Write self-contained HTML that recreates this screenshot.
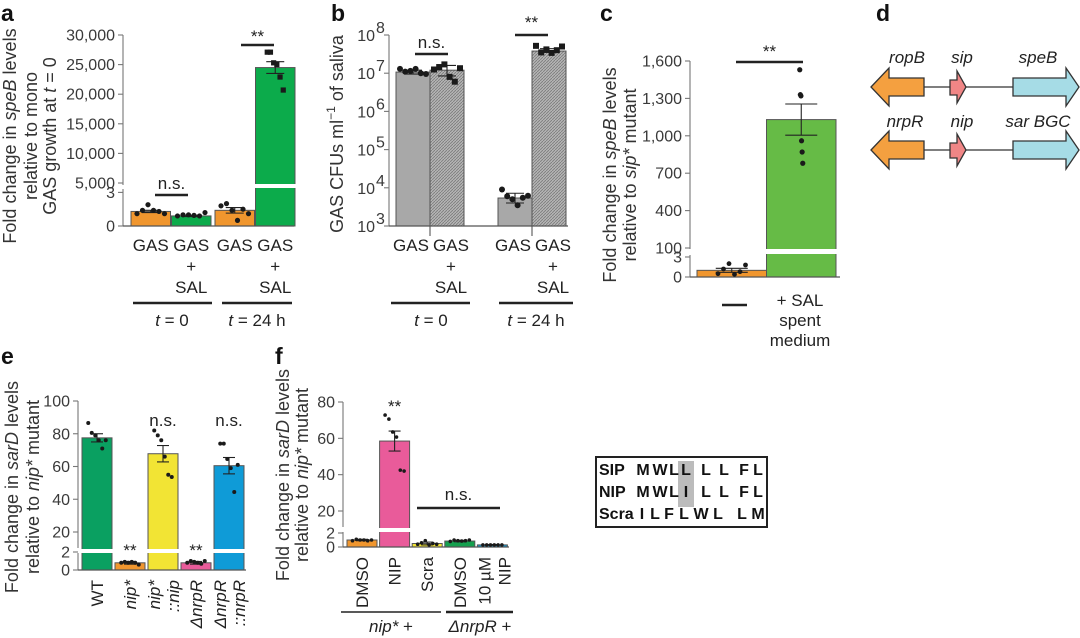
<!DOCTYPE html>
<html><head><meta charset="utf-8"><style>
html,body{margin:0;padding:0;background:#fff;}
svg{display:block;font-family:"Liberation Sans",sans-serif;}
.tk{font-size:16px;fill:#3a3a3a;}
.lb{font-size:17px;fill:#222;}
.pl{font-size:23px;font-weight:bold;fill:#111;}
.yt{font-size:18px;fill:#333;}
</style></head><body>
<svg id="fig" width="1080" height="638" viewBox="0 0 1080 638">
<defs>
<pattern id="hatch" width="3" height="3" patternUnits="userSpaceOnUse">
<rect width="3" height="3" fill="#b5b5b5"/><path d="M0,3 L3,0" stroke="#7d7d7d" stroke-width="0.9"/>
</pattern>
</defs>
<text class="pl" x="1" y="21">a</text>
<text class="pl" x="331" y="21">b</text>
<text class="pl" x="600" y="21">c</text>
<text class="pl" x="876" y="21">d</text>
<text class="pl" x="1" y="364">e</text>
<text class="pl" x="275" y="364">f</text>

<g class="yt" text-anchor="middle">
<text transform="translate(10,136) rotate(-90)" dominant-baseline="central">Fold change in <tspan font-style="italic">speB</tspan> levels</text>
<text transform="translate(31,136) rotate(-90)" dominant-baseline="central">relative to mono</text>
<text transform="translate(50,136) rotate(-90)" dominant-baseline="central">GAS growth at <tspan font-style="italic">t</tspan> = 0</text>
<text transform="translate(337,134) rotate(-90)" dominant-baseline="central">GAS CFUs ml<tspan dy="-6" font-size="12">−1</tspan><tspan dy="6"> of saliva</tspan></text>
<text transform="translate(610,175) rotate(-90)" dominant-baseline="central">Fold change in <tspan font-style="italic">speB</tspan> levels</text>
<text transform="translate(630,175) rotate(-90)" dominant-baseline="central">relative to <tspan font-style="italic">sip*</tspan> mutant</text>
<text transform="translate(12,487) rotate(-90)" dominant-baseline="central">Fold change in <tspan font-style="italic">sarD</tspan> levels</text>
<text transform="translate(33,487) rotate(-90)" dominant-baseline="central">relative to <tspan font-style="italic">nip*</tspan> mutant</text>
<text transform="translate(283,475) rotate(-90)" dominant-baseline="central">Fold change in <tspan font-style="italic">sarD</tspan> levels</text>
<text transform="translate(302,475) rotate(-90)" dominant-baseline="central">relative to <tspan font-style="italic">nip*</tspan> mutant</text>
</g>

<g stroke="#333" stroke-width="1.3">
<line x1="924" y1="87" x2="1013" y2="87"/>
<polygon points="871,87 889,68 889,78 924,78 924,96 889,96 889,106" fill="#f4a040"/>
<polygon points="950,80 957,80 957,71 966,87 957,103 957,95 950,95" fill="#f08686"/>
<polygon points="1013,78 1066,78 1066,68 1079,87 1066,106 1066,96 1013,96" fill="#a6dce6"/>
<line x1="924" y1="150" x2="1013" y2="150"/>
<polygon points="871,150 889,131 889,141 924,141 924,159 889,159 889,169" fill="#f4a040"/>
<polygon points="950,143 957,143 957,134 966,150 957,166 957,158 950,158" fill="#f08686"/>
<polygon points="1013,141 1066,141 1066,131 1079,150 1066,169 1066,159 1013,159" fill="#a6dce6"/>
</g>
<g class="lb" font-style="italic" text-anchor="middle" font-size="17">
<text x="907" y="63">ropB</text>
<text x="962" y="63">sip</text>
<text x="1038" y="63">speB</text>
<text x="905" y="127">nrpR</text>
<text x="962" y="127">nip</text>
<text x="1038" y="127">sar BGC</text>
</g>

<g>
<rect x="596" y="457" width="171" height="70" fill="none" stroke="#222" stroke-width="2"/>
<rect x="678" y="461" width="16" height="46" fill="#bcbcbc"/>
<g font-weight="bold" font-size="16" fill="#111" text-anchor="middle">
<text x="599" y="475" text-anchor="start">SIP</text>
<text y="475"><tspan x="643">M</tspan><tspan x="660">W</tspan><tspan x="674">L</tspan><tspan x="686">L</tspan><tspan x="706">L</tspan><tspan x="724">L</tspan><tspan x="744">F</tspan><tspan x="758">L</tspan></text>
<text x="599" y="497" text-anchor="start">NIP</text>
<text y="497"><tspan x="643">M</tspan><tspan x="660">W</tspan><tspan x="674">L</tspan><tspan x="686">I</tspan><tspan x="706">L</tspan><tspan x="724">L</tspan><tspan x="744">F</tspan><tspan x="758">L</tspan></text>
<text x="599" y="519" text-anchor="start">Scra</text>
<text y="519"><tspan x="642">I</tspan><tspan x="655">L</tspan><tspan x="669">F</tspan><tspan x="684">L</tspan><tspan x="701">W</tspan><tspan x="718">L</tspan><tspan x="742">L</tspan><tspan x="758">M</tspan></text>
</g>
</g>
<g id="plots"></g>
</svg>
<script>
// ---------- data ----------
const aCats = ["GAS", "GAS + SAL", "GAS", "GAS + SAL"];
const aVals = [1.3, 0.9, 1.4, 24500];
const aErr = [0.1, 0.06, 0.25, 1000];
const aDots = [[1.1, 1.4, 1.9, 1.4, 1.3, 1.1], [0.9, 1.0, 1.0, 0.95, 0.9, 1.2], [1.8, 2.0, 1.4, 0.5, 1.5, 1.1], [27100, 27100, 25300, 25000, 22900, 20700]];
const aTicksUpper = [5000, 10000, 15000, 20000, 25000, 30000];
const aTickLabelsUpper = ["5,000", "10,000", "15,000", "20,000", "25,000", "30,000"];
const aTicksLower = [0, 3];
const bCats = ["GAS", "GAS + SAL", "GAS", "GAS + SAL"];
const bVals = [1.07e7, 1.2e7, 5.4e3, 3.8e7];
const bErrLo = [9.5e6, 8.5e6, 4.0e3, 3.5e7];
const bErrHi = [1.2e7, 1.6e7, 7.2e3, 4.4e7];
const bDots = [[1.3e7, 1.1e7, 1.15e7, 1.3e7, 1.0e7, 0.95e7], [1.25e7, 1.45e7, 1.7e7, 0.8e7, 0.6e7, 1.35e7], [9e3, 6e3, 5e3, 3.5e3, 5.5e3, 6.2e3], [5.2e7, 3.5e7, 4.2e7, 3.4e7, 4.0e7, 5.0e7]];
const bTickExps = [3, 4, 5, 6, 7, 8];
const cVals = [1.0, 1130];
const cErr = [0.3, 125];
const cDots = [[0.5, 1.2, 2.0, 0.4, 0.8, 1.8], [1530, 1330, 1320, 960, 870, 780]];
const cTicksUpper = [100, 400, 700, 1000, 1300, 1600];
const cTickLabelsUpper = ["100", "400", "700", "1,000", "1,300", "1,600"];
const cTicksLower = [0, 3];
const eCats = ["WT", "nip*", "nip* ::nip", "ΔnrpR", "ΔnrpR ::nrpR"];
const eVals = [77.5, 0.8, 67.8, 0.8, 60.5];
const eErr = [2.5, 0.15, 5, 0.15, 5];
const eDots = [[86.6, 80.5, 79, 76, 71, 76], [0.8, 0.9, 0.8, 0.9, 0.8, 0.6], [82, 79, 76, 66, 55, 53.6], [0.8, 1.0, 0.9, 0.8, 0.7, 1.0], [74, 74, 64.6, 59, 44.4, 61]];
const eTicksUpper = [20, 40, 60, 80, 100];
const eTicksLower = [0, 2];
const fCats = ["DMSO", "NIP", "Scra", "DMSO", "10 µM NIP"];
const fVals = [1.0, 58.5, 0.5, 0.85, 0.3];
const fErr = [0.1, 5.5, 0.2, 0.1, 0.05];
const fDots = [[0.9, 1.1, 1.0, 1.0, 0.9, 1.0], [72.8, 70.6, 63.5, 60.7, 42.5, 42], [0.4, 0.6, 0.9, 0.3, 0.5, 0.4], [0.8, 1.0, 0.9, 0.85, 0.9, 1.0], [0.3, 0.3, 0.3, 0.3, 0.3, 0.3]];
const fTicksUpper = [20, 40, 60, 80];
const fTicksLower = [0, 2];

function yA(v) { return v <= 3 ? 226 - v * 11.2 : 183 - (v - 5000) * 148 / 25000; }
function yB(v) { return 226 - (Math.log10(v) - 3) * 38.2; }
function yC(v) { return v <= 3 ? 277 - v * 6.67 : 248 - (v - 100) * 187 / 1500; }
function yE(v) { return v <= 2 ? 570 - v * 9 : 532 - (v - 20) * 1.6375; }
function yF(v) { return v <= 2 ? 547 - v * 7 : 511 - (v - 20) * 1.8167; }
function xA(i) { return 131 + i * 40.5 + (i >= 2 ? 3 : 0); }
function xB(i) { return 396 + i * 34 + (i >= 2 ? 34 : 0); }
function xC(i) { return 697 + i * 69.5; }
function xE(i) { return 82 + i * 33; }
function xF(i) { return 347 + i * 32.6; }

const NS = "http://www.w3.org/2000/svg";
const root = document.getElementById("plots");
function mk(tag, parent) { const e = document.createElementNS(NS, tag); parent.appendChild(e); return e; }
function set(e, k, v) { e.setAttribute(k, v); }
function line(p, x1, y1, x2, y2, w, c) { const l = mk("line", p); set(l, "x1", x1); set(l, "y1", y1); set(l, "x2", x2); set(l, "y2", y2); set(l, "stroke", c || "#333"); set(l, "stroke-width", w || 1); return l; }
function txt(p, x, y, s, cls, anchor) { const t = mk("text", p); set(t, "x", x); set(t, "y", y); set(t, "class", cls); set(t, "text-anchor", anchor || "middle"); t.textContent = s; return t; }

function panel(name) { const g = mk("g", root);   return g; }

function axisY(g, ax, segs, ticks) {
  segs.forEach(s => {
    const l = line(g, ax, s[0], ax, s[1], 1.1, "#777");
    
    
  });
  ticks.forEach(t => {
    const l = line(g, ax - 5, t.y, ax, t.y, 1.1, "#777");
    
    
    const tt = txt(g, ax - 8, t.y + 5.5, t.label, "tk", "end");
    
    
  });
}
function barsDraw(g, n, xf, w, base, yf, vals, colors, fills, gapY) {
  for (let i = 0; i < n; i++) {
    const x = xf(i), top = yf(vals[i]);
    const r = mk("rect", g);
    set(r, "x", x); set(r, "y", top); set(r, "width", w); set(r, "height", base - top);
    set(r, "fill", fills ? fills[i] : colors[i]); set(r, "stroke", "#555"); set(r, "stroke-width", 1);
    
    
    if (gapY && top < gapY[0]) {
      const gp = mk("rect", g);
      set(gp, "x", x - 1); set(gp, "y", gapY[0]); set(gp, "width", w + 2); set(gp, "height", gapY[1] - gapY[0]); set(gp, "fill", "#fff");
      
      
    }
  }
}
function errDraw(g, n, xf, w, yf, lo, hi, cap) {
  for (let i = 0; i < n; i++) {
    const cx = xf(i) + w / 2;
    const l = line(g, cx, yf(hi[i]), cx, yf(lo[i]), 1.1, "#222");
    
    
    [lo[i], hi[i]].forEach(v => {
      const c = line(g, cx - cap, yf(v), cx + cap, yf(v), 1.1, "#222");
      
      
    });
  }
}
function dotsDraw(g, xf, w, yf, dots, square, r, spread) {
  dots.forEach((arr, i) => {
    arr.forEach((v, j) => {
      const cx = xf(i) + w / 2 + (j - (arr.length - 1) / 2) * spread;
      let d;
      if (square) { d = mk("rect", g); set(d, "x", cx - r); set(d, "y", yf(v) - r); set(d, "width", 2 * r); set(d, "height", 2 * r); }
      else { d = mk("circle", g); set(d, "cx", cx); set(d, "cy", yf(v)); set(d, "r", r); }
      set(d, "fill", "#1a1a1a");
      
      
    });
  });
}
function sig(g, x1, x2, y, label, ty) {
  const l = line(g, x1, y, x2, y, 2.5, "#222");
  
  
  const t = txt(g, (x1 + x2) / 2, ty, label, "lb");
  
  
}
function stackLabel(g, cx, lines, y0, dy) {
  lines.forEach((s, k) => {
    const t = txt(g, cx, y0 + k * dy, s, "lb");
    
    
  });
}

(function () {
  const g = panel("panel-a-chart");
  const ax = 123, w = 39.5;
  const ticks = aTicksUpper.map((v, i) => ({ y: yA(v), label: aTickLabelsUpper[i] })).concat(aTicksLower.map(v => ({ y: yA(v), label: String(v) })));
  axisY(g, ax, [[35, 185], [189, 226]], ticks);
  const col = ["#f0962e", "#0cab4b", "#f0962e", "#0cab4b"];
  barsDraw(g, 4, xA, w, 226, yA, aVals, col, null, [184, 188]);
  const xl = line(g, ax, 226, 294, 226, 1.3, "#555");
  
  
  errDraw(g, 4, xA, w, yA, aVals.map((v, i) => v - aErr[i]), aVals.map((v, i) => v + aErr[i]), 9);
  dotsDraw(g, xA, w, yA, aDots.slice(0, 3).concat([[]]), false, 2.6, 5.5);
  dotsDraw(g, xA, w, yA, [[], [], [], aDots[3]], true, 2.6, 3.2);
  aCats.forEach((c, i) => stackLabel(g, xA(i) + w / 2, c.split(" "), 251, 21));
  [[133, 212], [222, 292]].forEach(s => {
    const l = line(g, s[0], 303, s[1], 303, 2.5, "#222");
    
    
  });
  const t1 = txt(g, 172, 326, "", "lb"); t1.innerHTML = '<tspan font-style="italic">t</tspan> = 0';
  
  
  const t2 = txt(g, 257, 326, "", "lb"); t2.innerHTML = '<tspan font-style="italic">t</tspan> = 24 h';
  
  
  sig(g, 155, 188, 195, "n.s.", 189);
  sig(g, 241, 274, 45, "**", 42);
})();

(function () {
  const g = panel("panel-b-chart");
  const ax = 389, w = 34;
  axisY(g, ax, [[35, 226]], []);
  bTickExps.forEach(e => {
    const y = yB(Math.pow(10, e));
    const l = line(g, ax - 5, y, ax, y, 1.1, "#777");
    
    
    const t = txt(g, ax - 14, y + 6, "10", "tk", "end");
    
    
    const s = txt(g, ax - 13, y - 2, String(e), "tk", "start"); set(s, "font-size", "11");
    
    
  });
  barsDraw(g, 4, xB, w, 226, yB, bVals, null, ["#a8a8a8", "url(#hatch)", "#a8a8a8", "url(#hatch)"], null);
  const xl = line(g, ax, 226, 568, 226, 1.3, "#555");
  
  
  [430, 532].forEach(x => {
    const l = line(g, x, 226, x, 236, 1.1, "#555");
    
    
  });
  errDraw(g, 4, xB, w, yB, bErrLo, bErrHi, 9);
  dotsDraw(g, xB, w, yB, [bDots[0], [], bDots[2], []], false, 3, 5.2);
  dotsDraw(g, xB, w, yB, [[], bDots[1], [], bDots[3]], true, 3, 5.2);
  bCats.forEach((c, i) => stackLabel(g, xB(i) + w / 2 + (i % 2 ? 4 : -2), c.split(" "), 251, 21));
  [[391, 470], [499, 573]].forEach(s => {
    const l = line(g, s[0], 303, s[1], 303, 2.5, "#222");
    
    
  });
  const t1 = txt(g, 431, 326, "", "lb"); t1.innerHTML = '<tspan font-style="italic">t</tspan> = 0';
  
  
  const t2 = txt(g, 536, 326, "", "lb"); t2.innerHTML = '<tspan font-style="italic">t</tspan> = 24 h';
  
  
  sig(g, 415, 448, 54, "n.s.", 48);
  sig(g, 515, 548, 35, "**", 28);
})();

(function () {
  const g = panel("panel-c-chart");
  const ax = 690, w = 69.5;
  const ticks = cTicksUpper.map((v, i) => ({ y: yC(v), label: cTickLabelsUpper[i] })).concat(cTicksLower.map(v => ({ y: yC(v), label: String(v) })));
  axisY(g, ax, [[61, 249], [255, 277]], ticks);
  barsDraw(g, 2, xC, w, 277, yC, cVals, ["#f0962e", "#66bb46"], null, [249, 254]);
  const xl = line(g, ax, 277, 840, 277, 1.3, "#555");
  
  
  errDraw(g, 2, xC, w, yC, cVals.map((v, i) => v - cErr[i]), cVals.map((v, i) => v + cErr[i]), 16);
  dotsDraw(g, xC, w, yC, [cDots[0], []], false, 2.4, 5.5);
  dotsDraw(g, xC, w, yC, [[], cDots[1]], false, 2.6, 0.6);
  const dash = line(g, 722, 305, 747, 305, 2.5, "#222");
  
  
  stackLabel(g, 800, ["+ SAL", "spent", "medium"], 306, 20);
  sig(g, 736, 803, 62, "**", 57);
})();

(function () {
  const g = panel("panel-e-chart");
  const ax = 78, w = 30;
  const ticks = eTicksUpper.map(v => ({ y: yE(v), label: String(v) })).concat(eTicksLower.map(v => ({ y: yE(v), label: String(v) })));
  axisY(g, ax, [[401, 548], [553, 570]], ticks);
  barsDraw(g, 5, xE, w, 570, yE, eVals, ["#0aa061", "#f0962e", "#f2e434", "#e95b9a", "#0f9bd7"], null, [549, 553]);
  const xl = line(g, ax, 570, 246, 570, 1.3, "#555");
  
  
  errDraw(g, 5, xE, w, yE, eVals.map((v, i) => v - eErr[i]), eVals.map((v, i) => v + eErr[i]), 6);
  dotsDraw(g, xE, w, yE, eDots, false, 2, 3.5);
  eCats.forEach((c, i) => {
    const parts = c.split(" ");
    parts.forEach((p, k) => {
      const cx = xE(i) + w / 2 + (parts.length > 1 ? (k === 0 ? -9 : 10) : 0) + 6;
      const t = txt(g, 0, 0, p, "lb", "end");
      set(t, "transform", "translate(" + cx + ",580) rotate(-90)");
      if (i > 0) set(t, "font-style", "italic");
      
      
    });
  });
  [[1, "**", 556], [2, "n.s.", 426], [3, "**", 556], [4, "n.s.", 426]].forEach(a => {
    const t = txt(g, xE(a[0]) + w / 2, a[2], a[1], "lb");
    
    
  });
})();

(function () {
  const g = panel("panel-f-chart");
  const ax = 343, w = 30;
  const ticks = fTicksUpper.map(v => ({ y: yF(v), label: String(v) })).concat(fTicksLower.map(v => ({ y: yF(v), label: String(v) })));
  axisY(g, ax, [[402, 527], [532, 547]], ticks);
  barsDraw(g, 5, xF, w, 547, yF, fVals, ["#f0962e", "#e95b9a", "#f2e434", "#15a04e", "#0f9bd7"], null, [528, 532]);
  const xl = line(g, ax, 547, 509, 547, 1.3, "#555");
  
  
  errDraw(g, 5, xF, w, yF, fVals.map((v, i) => v - fErr[i]), fVals.map((v, i) => v + fErr[i]), 6);
  dotsDraw(g, xF, w, yF, fDots, false, 1.8, 3.8);
  fCats.forEach((c, i) => {
    const parts = c === "10 µM NIP" ? ["10 µM", "NIP"] : [c];
    parts.forEach((p, k) => {
      const cx = xF(i) + w / 2 + (parts.length > 1 ? (k === 0 ? -8 : 12) : 0) + 6;
      const t = txt(g, 0, 0, p, "lb", "end");
      set(t, "transform", "translate(" + cx + ",557) rotate(-90)");
      
      
    });
  });
  const st = txt(g, xF(1) + w / 2, 412, "**", "lb");
  
  
  sig(g, 417, 500, 508, "n.s.", 500);
  const g1 = line(g, 341, 612, 441, 612, 1.5, "#222");
  
  
  const g2 = line(g, 446, 612, 513, 612, 2.5, "#222");
  
  
  const l1 = txt(g, 391, 632, "", "lb"); l1.innerHTML = '<tspan font-style="italic">nip*</tspan> +';
  
  
  const l2 = txt(g, 480, 632, "", "lb"); l2.innerHTML = '<tspan font-style="italic">ΔnrpR</tspan> +';
  
  
})();
</script>
</body></html>
